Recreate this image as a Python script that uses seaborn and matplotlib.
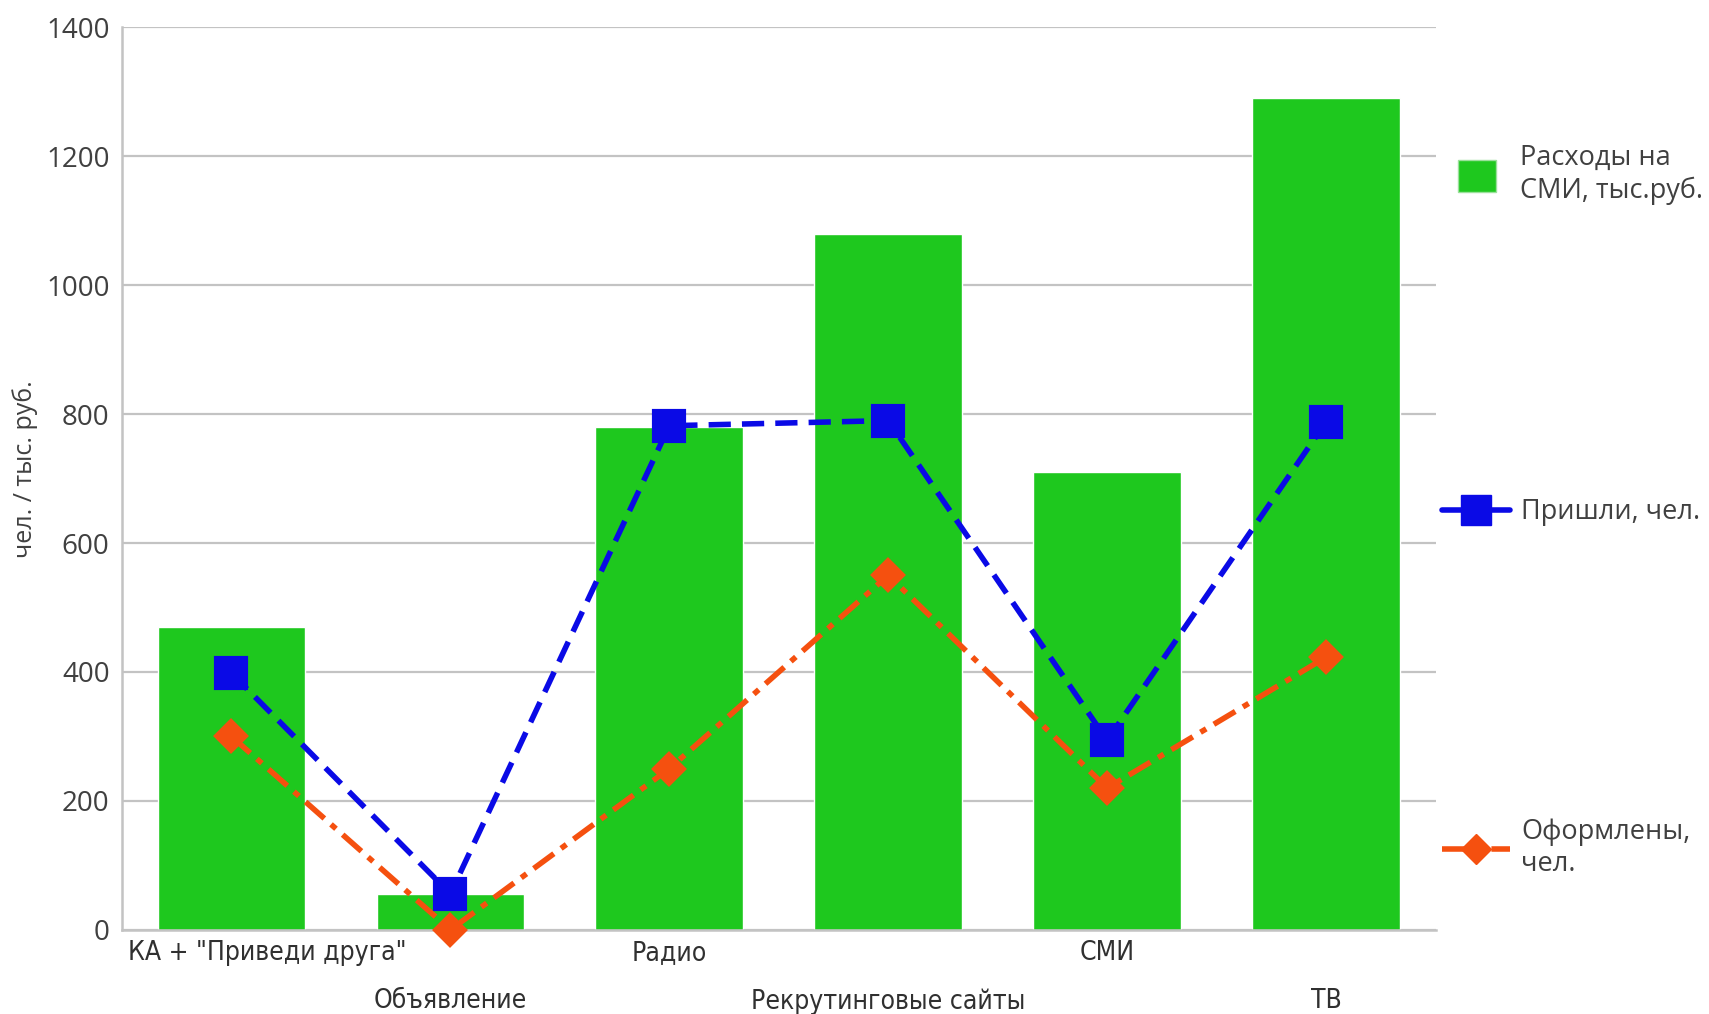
import numpy as np
import pandas as pd
import matplotlib
matplotlib.use("Agg")
import matplotlib.pyplot as plt
import seaborn as sns
from matplotlib.patches import Patch
from matplotlib.lines import Line2D
from matplotlib import font_manager
from matplotlib.transforms import ScaledTranslation

# data
categories = ['КА + "Приведи друга"', "Объявление", "Радио",
              "Рекрутинговые сайты", "СМИ", "ТВ"]
spend = [470, 55, 780, 1080, 710, 1290]      # Расходы на СМИ, тыс.руб.
came = [398, 56, 782, 790, 294, 788]         # Пришли, чел.
hired = [300, 0, 250, 550, 220, 423]         # Оформлены, чел.
yticks = [0, 200, 400, 600, 800, 1000, 1200, 1400]

df = pd.DataFrame({"cat": categories, "spend": spend, "came": came, "hired": hired})

sns.set_style("white")
plt.rcParams["font.family"] = ["Open Sans", "DejaVu Sans"]

# narrow font for category labels, if one is around
fonts = font_manager.fontManager.ttflist
names = {f.name for f in fonts}
cat_font = dict(family=["Open Sans", "DejaVu Sans"], fontsize=17.5)
if "Liberation Sans Narrow" in names:
    cat_font = dict(family=["Liberation Sans Narrow", "DejaVu Sans"], fontsize=20)
elif any(f.name == "DejaVu Sans" and f.stretch == "condensed" for f in fonts):
    cat_font = dict(family=["DejaVu Sans"], fontstretch="condensed", fontsize=19)

GREEN = "#1ec81e"
BLUE = "#0a0ae6"
ORANGE = "#f5500f"
GRID = "#c3c3c3"
TXT = "#404040"

fig = plt.figure(figsize=(17.09, 10.14), dpi=100)
ax = fig.add_axes([0.0714, 0.083, 0.7686, 0.890])

sns.barplot(data=df, x="cat", y="spend", color=GREEN, saturation=1,
            width=0.675, ax=ax, zorder=2)
sns.pointplot(data=df, x="cat", y="came", color=BLUE, markers="s",
              linestyles=(0, (4, 2)), ax=ax, markersize=21, linewidth=4,
              zorder=4, clip_on=False)
sns.pointplot(data=df, x="cat", y="hired", color=ORANGE, markers="D",
              linestyles=(0, (4.5, 1.6, 1.2, 1.6)), ax=ax, markersize=15,
              linewidth=4, zorder=3, clip_on=False)

ax.set_xlim(-0.5, 5.5)
ax.set_ylim(0, 1400)
ax.set_yticks(yticks)
ax.yaxis.grid(True, color=GRID, linewidth=1.6, zorder=0)
ax.set_axisbelow(True)
for s in ["top", "right"]:
    ax.spines[s].set_visible(False)
for s in ["left", "bottom"]:
    ax.spines[s].set_color(GRID)
    ax.spines[s].set_linewidth(1.8)

ax.tick_params(axis="y", length=5, color=GRID, width=1.6, labelsize=20,
               labelcolor=TXT, pad=4)
ax.tick_params(axis="x", length=0, labelcolor="#303030", pad=7)
ax.set_xlabel("")
ax.set_ylabel("чел. / тыс. руб.", fontsize=18, color=TXT)
ax.yaxis.set_label_coords(-0.064, 0.51)

ax.set_xticks(range(len(categories)))
ax.set_xticklabels(categories, **cat_font)
for i, t in enumerate(ax.xaxis.get_major_ticks()):
    if i % 2 == 1:
        t.set_pad(42)
# first label sits flush with the axis like in the original
first = ax.get_xticklabels()[0]
first.set_horizontalalignment("left")
first.set_transform(first.get_transform() + ScaledTranslation(-1.03, 0, fig.dpi_scale_trans))

# legend, spread down the right side
h1 = Patch(facecolor=GREEN, edgecolor="#9be09b", linewidth=1)
h2 = Line2D([0], [0], color=BLUE, lw=4, marker="s", markersize=21)
h3 = Line2D([0], [0], color=ORANGE, lw=4, marker="D", markersize=15,
            linestyle=(0, (4.5, 1.6, 1.2, 1.6)))
kw = dict(frameon=False, fontsize=19.5, borderpad=0, borderaxespad=0,
          labelcolor=TXT, loc="center left")
fig.legend([h1], ["Расходы на\nСМИ, тыс.руб."], bbox_to_anchor=(0.853, 0.828),
           handlelength=1.4, handleheight=1.4, handletextpad=0.9, **kw)
fig.legend([h2], ["Пришли, чел."], bbox_to_anchor=(0.844, 0.495),
           handlelength=2.5, handletextpad=0.4, **kw)
fig.legend([h3], ["Оформлены,\nчел."], bbox_to_anchor=(0.844, 0.164),
           handlelength=2.5, handletextpad=0.4, **kw)

fig.savefig("out.png", dpi=100, facecolor="white")
